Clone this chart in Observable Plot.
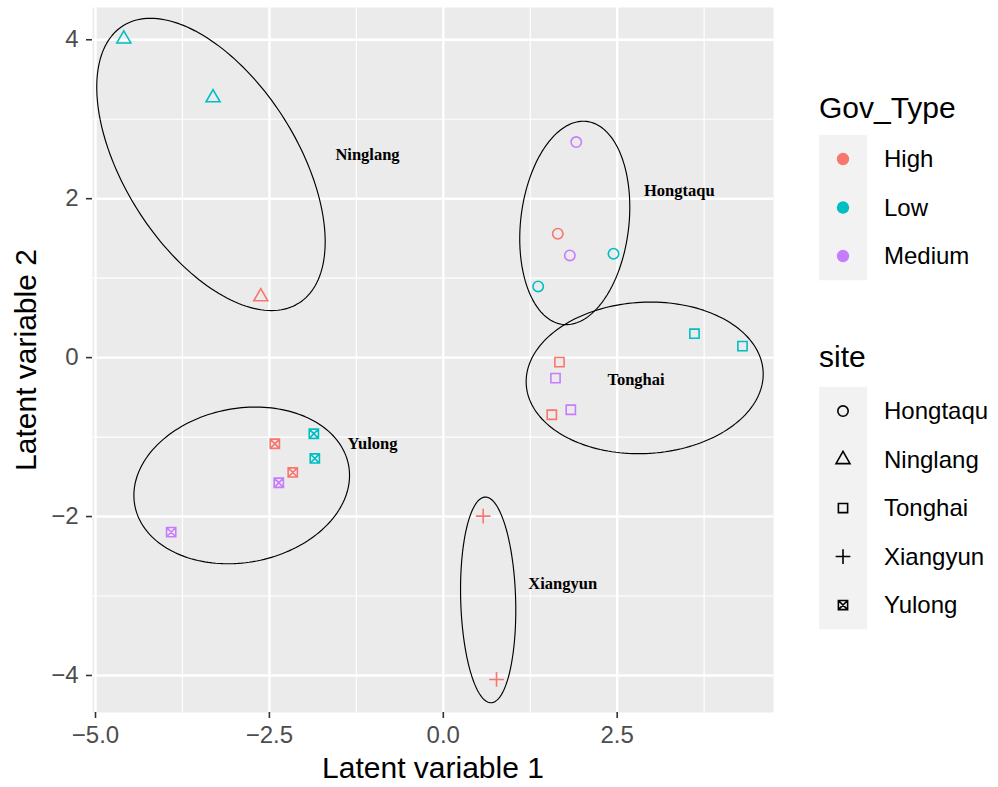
<!DOCTYPE html>
<html>
<head>
<meta charset="utf-8">
<script src="https://cdn.jsdelivr.net/npm/d3@7"></script>
<script src="https://cdn.jsdelivr.net/npm/@observablehq/plot@0.6"></script>
<style>
  html, body { margin: 0; padding: 0; background: #ffffff; }
  #chart { position: relative; width: 998px; height: 787px; }
  #chart svg { display: block; }
  #legend { position: absolute; left: 0; top: 0; pointer-events: none; }
</style>
</head>
<body>
<div id="chart"></div>
<script>
// Sample scores on the two latent variables
const site = [
  "Ninglang", "Ninglang", "Ninglang",
  "Hongtaqu", "Hongtaqu", "Hongtaqu", "Hongtaqu", "Hongtaqu",
  "Tonghai", "Tonghai", "Tonghai", "Tonghai", "Tonghai", "Tonghai",
  "Xiangyun", "Xiangyun",
  "Yulong", "Yulong", "Yulong", "Yulong", "Yulong", "Yulong"
];
const govType = [
  "Low", "Low", "High",
  "Medium", "High", "Medium", "Low", "Low",
  "Low", "Low", "High", "Medium", "Medium", "High",
  "High", "High",
  "High", "Low", "Low", "High", "Medium", "Medium"
];
const lv1 = [
  -4.593, -3.310, -2.624,
  1.911, 1.646, 1.819, 2.447, 1.364,
  3.611, 4.301, 1.670, 1.613, 1.833, 1.560,
  0.573, 0.765,
  -2.422, -1.861, -1.847, -2.164, -2.365, -3.912
];
const lv2 = [
  4.011, 3.271, 0.766,
  2.712, 1.559, 1.286, 1.307, 0.896,
  0.301, 0.145, -0.057, -0.258, -0.656, -0.719,
  -1.995, -4.050,
  -1.084, -0.958, -1.269, -1.445, -1.575, -2.196
];

// One ellipse per site: centre, half-extent along each axis, and phase
// (x = cx + ax·cos t, y = cy + ay·cos(t − phase))
const ellipseSite  = ["Ninglang", "Hongtaqu", "Tonghai", "Yulong", "Xiangyun"];
const ellipseCx    = [-3.340, 1.890, 2.895, -2.898, 0.645];
const ellipseCy    = [2.431, 1.695, -0.255, -1.608, -3.049];
const ellipseAx    = [1.642, 0.791, 1.704, 1.550, 0.397];
const ellipseAy    = [1.839, 1.280, 0.954, 0.986, 1.294];
const ellipsePhase = [2.128, 1.415, 1.521, 1.443, 1.671];

// Site name annotations
const labelSite = ["Ninglang", "Hongtaqu", "Tonghai", "Yulong", "Xiangyun"];
const labelX    = [-1.090, 3.393, 2.770, -1.018, 1.717];
const labelY    = [2.557, 2.096, -0.278, -1.083, -2.845];

// Scales, ticks and legend entries
const govLevels  = ["High", "Low", "Medium"];
const govColors  = ["#F8766D", "#00BFC4", "#C77CFF"];
const siteLevels = ["Hongtaqu", "Ninglang", "Tonghai", "Xiangyun", "Yulong"];
const xTicks      = [-5, -2.5, 0, 2.5];
const xTickLabels = ["\u22125.0", "\u22122.5", "0.0", "2.5"];
const xMinor      = [-3.75, -1.25, 1.25, 3.75];
const yTicks      = [-4, -2, 0, 2, 4];
const yTickLabels = ["\u22124", "\u22122", "0", "2", "4"];
const yMinor      = [-3, -1, 1, 3];
const xTitle = "Latent variable 1";
const yTitle = "Latent variable 2";
const govTitle = "Gov_Type";
const siteTitle = "site";

// R-style open point shapes; R is the base radius derived from the dot size
const radiusOf = size => Math.sqrt(size / Math.PI);
const shapeCircle = {draw(ctx, size) {
  const R = radiusOf(size);
  ctx.moveTo(R, 0); ctx.arc(0, 0, R, 0, 2 * Math.PI); ctx.closePath();
}};
const shapeTriangle = {draw(ctx, size) {
  const R = radiusOf(size);
  const top = 1.5551 * R, half = 1.3468 * R, low = 0.7776 * R;
  ctx.moveTo(0, -top); ctx.lineTo(half, low); ctx.lineTo(-half, low); ctx.closePath();
}};
const shapeSquare = {draw(ctx, size) {
  const h = 0.8862 * radiusOf(size);
  ctx.moveTo(-h, -h); ctx.lineTo(h, -h); ctx.lineTo(h, h); ctx.lineTo(-h, h); ctx.closePath();
}};
const shapePlus = {draw(ctx, size) {
  const h = 1.4142 * radiusOf(size);
  ctx.moveTo(-h, 0); ctx.lineTo(h, 0); ctx.moveTo(0, -h); ctx.lineTo(0, h);
}};
const shapeSquareCross = {draw(ctx, size) {
  const h = 0.8862 * radiusOf(size);
  ctx.moveTo(-h, -h); ctx.lineTo(h, -h); ctx.lineTo(h, h); ctx.lineTo(-h, h); ctx.closePath();
  ctx.moveTo(-h, -h); ctx.lineTo(h, h); ctx.moveTo(h, -h); ctx.lineTo(-h, h);
}};
const siteShapes = [shapeCircle, shapeTriangle, shapeSquare, shapePlus, shapeSquareCross];

const points = site.map((s, i) => ({site: s, gov: govType[i], lv1: lv1[i], lv2: lv2[i]}));

const ellipseOutline = ellipseSite.flatMap((s, i) =>
  d3.range(0, 361, 2).map(deg => {
    const t = deg * Math.PI / 180;
    return {
      site: s,
      x: ellipseCx[i] + ellipseAx[i] * Math.cos(t),
      y: ellipseCy[i] + ellipseAy[i] * Math.cos(t - ellipsePhase[i])
    };
  })
);

const labels = labelSite.map((s, i) => ({site: s, x: labelX[i], y: labelY[i]}));

const xFmt = new Map(xTicks.map((v, i) => [v, xTickLabels[i]]));
const yFmt = new Map(yTicks.map((v, i) => [v, yTickLabels[i]]));

const W = 998, H = 787;
const margin = {left: 92, right: 225, top: 7, bottom: 75};

const chart = Plot.plot({
  width: W,
  height: H,
  marginLeft: margin.left,
  marginRight: margin.right,
  marginTop: margin.top,
  marginBottom: margin.bottom,
  style: {fontFamily: "'Liberation Sans', Arial, Helvetica, sans-serif", background: "#ffffff", overflow: "visible"},
  x: {domain: [-5.043, 4.747]},
  y: {domain: [-4.466, 4.406]},
  color: {domain: govLevels, range: govColors},
  symbol: {domain: siteLevels, range: siteShapes},
  marks: [
    Plot.frame({fill: "#EBEBEB", stroke: "none"}),
    Plot.ruleX(xMinor, {stroke: "#ffffff", strokeWidth: 1.2}),
    Plot.ruleY(yMinor, {stroke: "#ffffff", strokeWidth: 1.2}),
    Plot.ruleX(xTicks, {stroke: "#ffffff", strokeWidth: 2.4}),
    Plot.ruleY(yTicks, {stroke: "#ffffff", strokeWidth: 2.4}),
    Plot.line(ellipseOutline, {x: "x", y: "y", z: "site", stroke: "#000000", strokeWidth: 1.15}),
    Plot.dot(points, {
      x: "lv1", y: "lv2", symbol: "site", stroke: "gov", fill: "none",
      r: 5.2, strokeWidth: 1.6
    }),
    Plot.text(labels, {
      x: "x", y: "y", text: "site",
      fontFamily: "'Liberation Serif', 'Times New Roman', serif",
      fontWeight: "bold", fontSize: 16.5, fill: "#000000",
      textAnchor: "middle", lineAnchor: "middle"
    }),
    Plot.axisX({
      ticks: xTicks, tickFormat: d => xFmt.get(d), tickSize: 6, tickPadding: 7,
      fontSize: 24, stroke: "#333333", fill: "#4D4D4D", strokeWidth: 1.6, label: null
    }),
    Plot.axisY({
      ticks: yTicks, tickFormat: d => yFmt.get(d), tickSize: 6, tickPadding: 8,
      fontSize: 24, stroke: "#333333", fill: "#4D4D4D", strokeWidth: 1.6, label: null
    }),
    Plot.text([xTitle], {frameAnchor: "bottom", textAnchor: "middle", lineAnchor: "middle", dy: 56, fontSize: 30, fill: "#000000"}),
    Plot.text([yTitle], {frameAnchor: "left", textAnchor: "middle", lineAnchor: "middle", rotate: -90, dx: -66, fontSize: 30, fill: "#000000"})
  ]
});

const container = document.getElementById("chart");
container.appendChild(chart);

// Legends drawn to the right of the panel
const legend = d3.select(container).append("svg")
  .attr("id", "legend")
  .attr("width", W).attr("height", H)
  .style("font-family", "'Liberation Sans', Arial, Helvetica, sans-serif");

const keyX = 819, keyW = 48, keyH = 48.5, labelOffset = 65;
const symbolSize = 5.2 * 5.2 * Math.PI;

function legendBlock(title, titleBaseline, keysTop, entries, drawKey) {
  const g = legend.append("g");
  g.append("text").attr("x", keyX).attr("y", titleBaseline)
    .attr("font-size", 30).attr("fill", "#000000").text(title);
  g.append("rect").attr("x", keyX).attr("y", keysTop)
    .attr("width", keyW).attr("height", keyH * entries.length).attr("fill", "#F2F2F2");
  entries.forEach((name, i) => {
    const cy = keysTop + keyH * (i + 0.5);
    drawKey(g, keyX + keyW / 2, cy, i);
    g.append("text").attr("x", keyX + labelOffset).attr("y", cy).attr("dy", "0.35em")
      .attr("font-size", 24).attr("fill", "#000000").text(name);
  });
}

legendBlock(govTitle, 117.5, 134.8, govLevels, (g, cx, cy, i) => {
  g.append("circle").attr("cx", cx).attr("cy", cy).attr("r", 6.2).attr("fill", govColors[i]);
});

legendBlock(siteTitle, 367, 386.8, siteLevels, (g, cx, cy, i) => {
  g.append("path")
    .attr("transform", `translate(${cx},${cy})`)
    .attr("d", d3.symbol(siteShapes[i], symbolSize)())
    .attr("fill", "none").attr("stroke", "#000000").attr("stroke-width", 1.6);
});
</script>
</body>
</html>
